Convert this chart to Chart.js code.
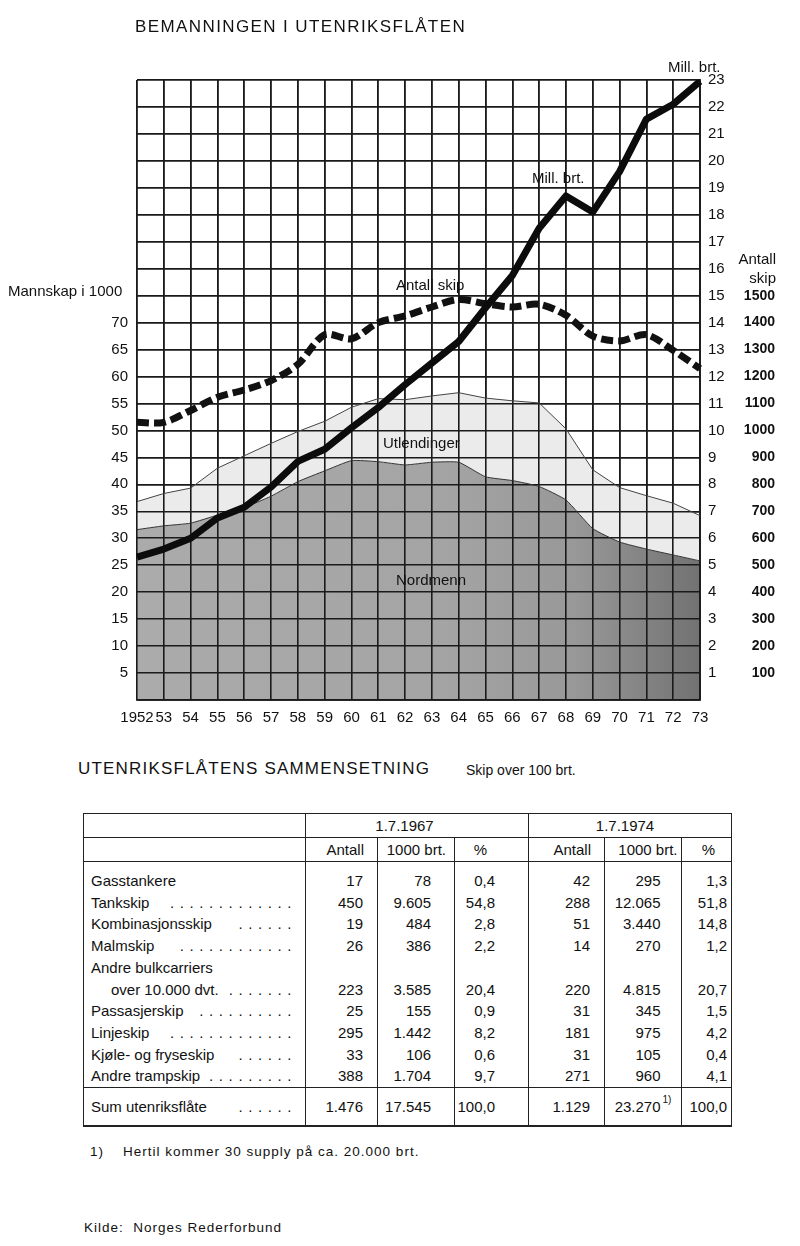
<!DOCTYPE html>
<html>
<head>
<meta charset="utf-8">
<script src="https://cdn.jsdelivr.net/npm/chart.js@4.4.1/dist/chart.umd.min.js"></script>
<style>
  body { margin: 0; background: #fff; font-family: 'Liberation Sans', Arial, sans-serif; color: #111; }
  #page { position: relative; width: 800px; height: 1246px; overflow: hidden; }
  #chartBox { position: absolute; left: 0; top: 0; width: 800px; height: 740px; }
  .t { position: absolute; white-space: nowrap; line-height: 1; transform: translateY(-50%); font-size: 15px; }
  #tbl { position: absolute; left: 83px; top: 813px; width: 648px; border-collapse: collapse;
         table-layout: fixed; border: 1.5px solid #222; font-size: 15px; }
  #tbl td { padding: 0; white-space: nowrap; }
  #tbl .vl { border-left: 1.5px solid #222; }
  #tbl tr.h td { height: 23px; border-bottom: 1.5px solid #222; }
  #tbl tr.b td { height: 21.7px; line-height: 21.7px; }
  #tbl tr.first td { padding-top: 8px; }
  #tbl tr.sum td { height: 37px; border-top: 1.5px solid #222; border-bottom: 2px solid #222; }
  #tbl .lab { padding-left: 7px; padding-right: 8px; }
  #tbl .lab div { display: flex; justify-content: space-between; }
  #tbl .dots { letter-spacing: 5.6px; }
  #tbl td.n { text-align: right; }
  .foot { position: absolute; font-size: 13.5px; letter-spacing: 1px; white-space: nowrap; line-height: 1; transform: translateY(-50%); }
</style>
</head>
<body>
<div id="page">
  <div id="chartBox"><canvas id="chart" width="800" height="740"></canvas></div>

  <div class="t" style="left:135px; top:26px; font-size:17px; letter-spacing:1.4px;">BEMANNINGEN I UTENRIKSFLÅTEN</div>
  <div class="t" style="left:668px; top:66px;">Mill. brt.</div>
  <div class="t" style="left:532px; top:177px;">Mill. brt.</div>
  <div class="t" style="left:396px; top:284px;">Antall skip</div>
  <div class="t" style="left:383px; top:442px;">Utlendinger</div>
  <div class="t" style="left:396px; top:579px;">Nordmenn</div>
  <div class="t" style="right:24px; top:258px; text-align:right;">Antall</div>
  <div class="t" style="right:24px; top:277px; text-align:right;">skip</div>
  <div class="t" style="left:8px; top:290px;">Mannskap i 1000</div>

  <div class="t" style="left:78px; top:768px; font-size:17px; letter-spacing:1.2px;">UTENRIKSFLÅTENS SAMMENSETNING</div>
  <div class="t" style="left:466px; top:770px; font-size:14px;">Skip over 100 brt.</div>

  <table id="tbl">
    <colgroup>
      <col style="width:222px"><col style="width:72px"><col style="width:77px"><col style="width:74px">
      <col style="width:76px"><col style="width:76.5px"><col style="width:50.5px">
    </colgroup>
    <tbody id="tbody"></tbody>
  </table>

  <div class="foot" style="left:90px; top:1152px;">1)&nbsp;&nbsp;&nbsp; Hertil kommer 30 supply på ca. 20.000 brt.</div>
  <div class="foot" style="left:84px; top:1228px;">Kilde:&nbsp; Norges Rederforbund</div>
</div>

<script>
// ── Chart data ──────────────────────────────────────────────────────────────
const years = ['1952', '53', '54', '55', '56', '57', '58', '59', '60', '61', '62',
               '63', '64', '65', '66', '67', '68', '69', '70', '71', '72', '73'];
// Mill. brt.
const millBrt = [5.3, 5.6, 6.0, 6.75, 7.15, 7.9, 8.85, 9.3, 10.1, 10.85, 11.7,
                 12.5, 13.3, 14.55, 15.75, 17.5, 18.7, 18.1, 19.6, 21.55, 22.1, 22.95];
// Antall skip
const antallSkip = [1030, 1030, 1074, 1123, 1150, 1185, 1245, 1355, 1340, 1400, 1425,
                    1458, 1486, 1470, 1458, 1468, 1427, 1350, 1332, 1355, 1297, 1229];
// Mannskap i 1000 (totalt = nordmenn + utlendinger)
const mannskapTotal = [36.8, 38.3, 39.3, 43.0, 45.3, 47.6, 49.8, 51.7, 54.3, 55.9, 55.7,
                       56.4, 57.0, 56.0, 55.5, 55.1, 50.3, 42.7, 39.4, 37.9, 36.5, 34.2];
const nordmenn = [31.6, 32.3, 32.8, 34.3, 35.7, 37.8, 40.5, 42.5, 44.4, 44.2, 43.6,
                  44.1, 44.1, 41.4, 40.7, 39.6, 37.1, 31.8, 29.3, 28.0, 26.9, 25.8];

// tick labels shown on each axis
const mannskapTicks = [5, 10, 15, 20, 25, 30, 35, 40, 45, 50, 55, 60, 65, 70];
const brtTicks = [1, 2, 3, 4, 5, 6, 7, 8, 9, 10, 11, 12, 13, 14, 15, 16, 17, 18, 19, 20, 21, 22, 23];
const skipTicks = [100, 200, 300, 400, 500, 600, 700, 800, 900, 1000, 1100, 1200, 1300, 1400, 1500];

// ── Table data ──────────────────────────────────────────────────────────────
const shipTypes = ['Gasstankere', 'Tankskip', 'Kombinasjonsskip', 'Malmskip', 'over 10.000 dvt.',
                   'Passasjerskip', 'Linjeskip', 'Kjøle- og fryseskip', 'Andre trampskip'];
const leaderDots = [0, 13, 6, 12, 7, 10, 13, 6, 9];
const antall1967 = ['17', '450', '19', '26', '223', '25', '295', '33', '388'];
const brt1967 = ['78', '9.605', '484', '386', '3.585', '155', '1.442', '106', '1.704'];
const pct1967 = ['0,4', '54,8', '2,8', '2,2', '20,4', '0,9', '8,2', '0,6', '9,7'];
const antall1974 = ['42', '288', '51', '14', '220', '31', '181', '31', '271'];
const brt1974 = ['295', '12.065', '3.440', '270', '4.815', '345', '975', '105', '960'];
const pct1974 = ['1,3', '51,8', '14,8', '1,2', '20,7', '1,5', '4,2', '0,4', '4,1'];
const sumRow = ['1.476', '17.545', '100,0', '1.129', '23.270', '100,0'];

const numPad = [14, 23, 33, 14, 20, 4];

// ── Build table ─────────────────────────────────────────────────────────────
(function buildTable() {
  const tb = document.getElementById('tbody');
  let html = '';
  html += '<tr class="h"><td></td><td class="vl" colspan="3" style="text-align:center;padding-right:25px">1.7.1967</td>' +
          '<td class="vl" colspan="3" style="text-align:center;padding-right:10px">1.7.1974</td></tr>';
  const heads = [['Antall', 13], ['1000 brt.', 8], ['%', 41], ['Antall', 13], ['1000 brt.', 3], ['%', 16]];
  html += '<tr class="h"><td></td>' + heads.map(function (h) {
    return '<td class="vl n" style="padding-right:' + h[1] + 'px">' + h[0] + '</td>';
  }).join('') + '</tr>';

  function lab(text, dots, indent) {
    const d = dots ? '<span class="dots">' + '.'.repeat(dots) + '</span>' : '<span></span>';
    return '<td class="lab"><div><span style="padding-left:' + (indent || 0) + 'px">' + text + '</span>' + d + '</div></td>';
  }
  function nums(vals) {
    return vals.map(function (v, i) {
      return '<td class="vl n" style="padding-right:' + numPad[i] + 'px">' + v + '</td>';
    }).join('');
  }
  shipTypes.forEach(function (name, i) {
    const vals = [antall1967[i], brt1967[i], pct1967[i], antall1974[i], brt1974[i], pct1974[i]];
    if (i === 4) {
      html += '<tr class="b">' + lab('Andre bulkcarriers', 0, 0) + nums(['', '', '', '', '', '']) + '</tr>';
      html += '<tr class="b">' + lab(name, leaderDots[i], 20) + nums(vals) + '</tr>';
    } else {
      html += '<tr class="b' + (i === 0 ? ' first' : '') + '">' + lab(name, leaderDots[i], 0) + nums(vals) + '</tr>';
    }
  });
  const sumVals = sumRow.slice();
  sumVals[4] = sumVals[4] + '<sup style="font-size:10px;position:absolute;margin-top:-4px;margin-left:2px">1)</sup>';
  html += '<tr class="sum">' + lab('Sum utenriksflåte', 6, 0) + nums(sumVals) + '</tr>';
  tb.innerHTML = html;
})();

// ── Chart ───────────────────────────────────────────────────────────────────
const gridColor = '#1a1a1a';
const tickFont = { family: "'Liberation Sans', Arial, sans-serif", size: 15 };

function darkFill(context) {
  const chart = context.chart;
  const a = chart.chartArea;
  if (!a) return '#a5a5a5';
  const g = chart.ctx.createLinearGradient(a.left, 0, a.right, 0);
  g.addColorStop(0, '#ababab');
  g.addColorStop(0.55, '#a4a4a4');
  g.addColorStop(0.78, '#989898');
  g.addColorStop(1, '#727272');
  return g;
}

// grid drawn again over the filled areas, below the lines
const gridOverFill = {
  id: 'gridOverFill',
  beforeDatasetsDraw(chart) {
    ['x', 'yB'].forEach(function (id) {
      const s = chart.scales[id];
      s.drawGrid(chart.chartArea);
      if (typeof s.drawBorder === 'function') s.drawBorder();
    });
  }
};

new Chart(document.getElementById('chart'), {
  type: 'line',
  data: {
    labels: years,
    datasets: [
      { label: 'Mill. brt.', data: millBrt, yAxisID: 'yB', borderColor: '#0c0c0c',
        borderWidth: 7, borderJoinStyle: 'round', pointRadius: 0, tension: 0, fill: false },
      { label: 'Antall skip', data: antallSkip, yAxisID: 'yS', borderColor: '#111',
        borderWidth: 7, borderDash: [12, 5], pointRadius: 0, tension: 0.3, fill: false },
      { label: 'Utlendinger', data: mannskapTotal, yAxisID: 'yM', borderColor: '#444',
        borderWidth: 1, pointRadius: 0, tension: 0, fill: 3, backgroundColor: '#ebebeb' },
      { label: 'Nordmenn', data: nordmenn, yAxisID: 'yM', borderColor: '#333',
        borderWidth: 1, pointRadius: 0, tension: 0.15, fill: 'origin', backgroundColor: darkFill }
    ]
  },
  options: {
    responsive: false,
    animation: false,
    layout: { padding: { top: 80, right: 25, left: 0, bottom: 0 } },
    plugins: {
      legend: { display: false },
      tooltip: { enabled: false },
      filler: { drawTime: 'beforeDatasetsDraw' }
    },
    scales: {
      x: {
        offset: false,
        grid: { color: gridColor, lineWidth: 1.6, drawTicks: false },
        border: { color: gridColor, width: 1.6 },
        ticks: { color: '#111', font: tickFont, padding: 9, autoSkip: false, maxRotation: 0 },
        afterFit: function (s) { s.height = 40; }
      },
      yM: {
        position: 'left', min: 0, max: 115,
        grid: { display: false, drawTicks: false },
        border: { display: false },
        ticks: { stepSize: 5, color: '#111', font: tickFont, padding: 9,
                 callback: function (v) { return mannskapTicks.includes(v) ? v : ''; } },
        afterFit: function (s) { s.width = 137; }
      },
      yB: {
        position: 'right', weight: 0, min: 0, max: 23,
        grid: { color: gridColor, lineWidth: 1.6, drawTicks: false },
        border: { color: gridColor, width: 1.6 },
        ticks: { stepSize: 1, color: '#111', font: tickFont, padding: 8,
                 callback: function (v) { return brtTicks.includes(v) ? v : ''; } },
        afterFit: function (s) { s.width = 30; }
      },
      yS: {
        position: 'right', weight: 1, min: 0, max: 2300,
        grid: { display: false, drawTicks: false },
        border: { display: false },
        ticks: { stepSize: 100, color: '#111', font: Object.assign({}, tickFont, { weight: 'bold', size: 14 }),
                 crossAlign: 'far',
                 callback: function (v) { return skipTicks.includes(v) ? v : ''; } },
        afterFit: function (s) { s.width = 45; }
      }
    }
  },
  plugins: [gridOverFill]
});
</script>
</body>
</html>
